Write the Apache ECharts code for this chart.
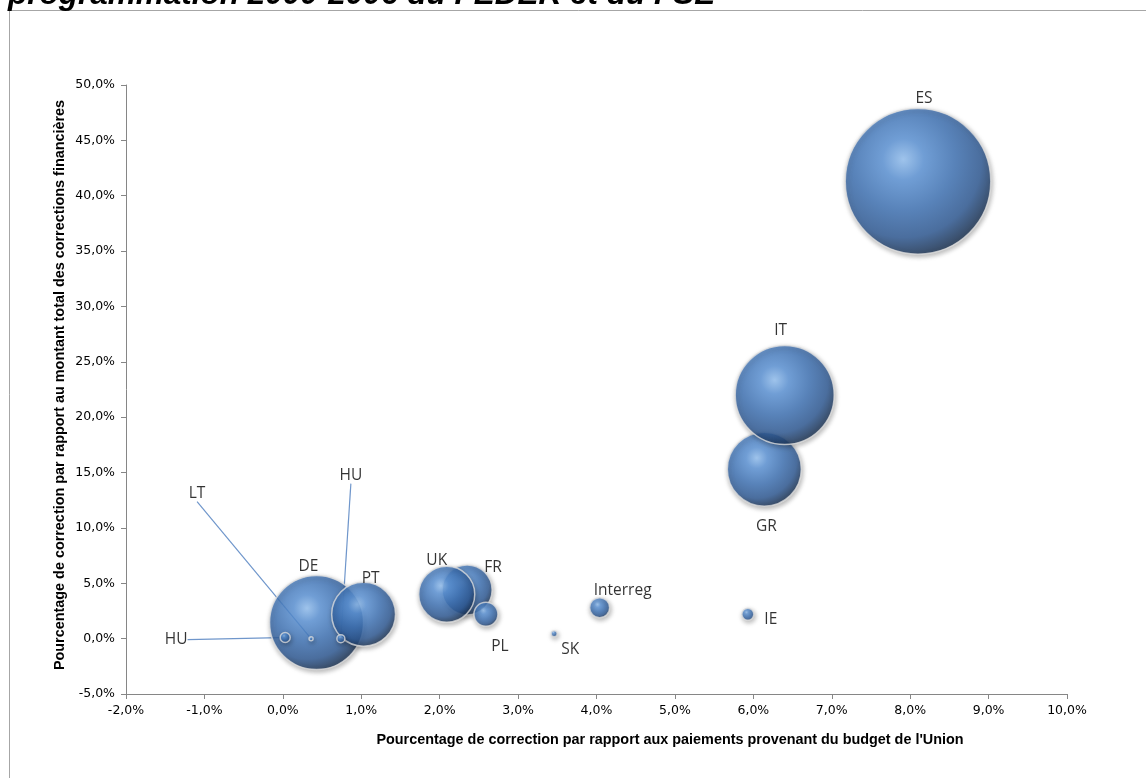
<!DOCTYPE html>
<html>
<head>
<meta charset="utf-8">
<script src="https://cdn.jsdelivr.net/npm/echarts@6/dist/echarts.min.js"></script>
<style>
  html, body { margin: 0; padding: 0; background: #fff; }
  #chart { width: 1146px; height: 778px; }
</style>
</head>
<body>
<div id="chart"></div>
<script>
// données
const pays = ['ES', 'GR', 'IT', 'FR', 'UK', 'PL', 'DE', 'PT', 'Interreg', 'IE', 'SK', 'HU', 'LT', 'HU'];
// % de correction par rapport aux paiements (axe x)
const partPaiements = [8.10, 6.14, 6.40, 2.35, 2.09, 2.59, 0.43, 1.03, 4.04, 5.93, 3.46, 0.03, 0.36, 0.74];
// % par rapport au montant total des corrections (axe y)
const partCorrections = [41.3, 15.3, 22.0, 4.4, 4.0, 2.2, 1.45, 2.2, 2.8, 2.2, 0.45, 0.1, 0.0, 0.0];
// taille des bulles (estimée d'après les rayons)
const tailleBulles = [53, 13.7, 24.5, 6.25, 7.84, 1.44, 22.1, 10.2, 1.0, 0.36, 0.09, 0.25, 0.04, 0.16];
const xTicks = { min: -2, max: 10, interval: 1 };
const yTicks = { min: -5, max: 50, interval: 5 };

// décalage des étiquettes (px, depuis le centre de la bulle)
const decalages = [
  [6, -83], [2, 57], [-4, -64], [26, -22], [-10, -34], [14, 32], [-8, -56], [7, -36],
  [23, -17], [23, 5], [16, 16], [-109, 2], [-114, -145], [10, -163]
];
// étiquettes reliées par un trait
const avecTrait = [11, 12, 13];

const fmt = (v) => v.toFixed(1).replace('.', ',') + '%';

const myChart = echarts.init(document.getElementById('chart'));

const bulle = {
  type: 'radial', x: 0.4, y: 0.35, r: 0.7,
  colorStops: [
    { offset: 0, color: '#98c6f8' },
    { offset: 0.2, color: '#5e97dc' },
    { offset: 0.5, color: '#4075b9' },
    { offset: 0.76, color: '#2f5b97' },
    { offset: 0.92, color: '#1c375c' },
    { offset: 1, color: '#142842' }
  ]
};

const donnees = pays.map((nom, i) => ({
  name: nom,
  value: [partPaiements[i], partCorrections[i], tailleBulles[i]],
  labelLine: { show: avecTrait.includes(i) }
}));

const options = {
  animation: false,
  grid: { left: 126, right: 79, top: 85, bottom: 84 },
  xAxis: {
    type: 'value',
    min: xTicks.min, max: xTicks.max, interval: xTicks.interval,
    splitLine: { show: false },
    axisLine: { onZero: false, lineStyle: { color: '#868686' } },
    axisTick: { show: true, length: 5, lineStyle: { color: '#868686' } },
    axisLabel: {
      formatter: fmt, margin: 10,
      color: '#000', fontFamily: 'DejaVu Sans', fontSize: 12.5
    }
  },
  yAxis: {
    type: 'value',
    min: yTicks.min, max: yTicks.max, interval: yTicks.interval,
    splitLine: { show: false },
    axisLine: { show: true, onZero: false, lineStyle: { color: '#868686' } },
    axisTick: { show: true, length: 5, lineStyle: { color: '#868686' } },
    axisLabel: {
      formatter: fmt, margin: 11,
      color: '#000', fontFamily: 'DejaVu Sans', fontSize: 12.5
    }
  },
  graphic: [
    {
      type: 'rect', silent: true,
      shape: { x: 9.5, y: 10.5, width: 1300, height: 900 },
      style: { fill: 'none', stroke: '#a6a6a6', lineWidth: 1 }
    },
    {
      type: 'text', left: 8, top: -21,
      style: {
        text: 'programmation 2000-2006 du FEDER et du FSE',
        font: 'italic bold 31.5px "Liberation Sans"', fill: '#000'
      }
    },
    {
      type: 'text', x: 670, y: 740,
      style: {
        text: "Pourcentage de correction par rapport aux paiements provenant du budget de l'Union",
        font: 'bold 14.4px "Liberation Sans"', fill: '#000',
        align: 'center', verticalAlign: 'middle'
      }
    },
    {
      type: 'text', x: 60, y: 385, rotation: Math.PI / 2,
      style: {
        text: 'Pourcentage de correction par rapport au montant total des corrections financières',
        font: 'bold 14.4px "Liberation Sans"', fill: '#000',
        align: 'center', verticalAlign: 'middle'
      }
    }
  ],
  series: [
    {
      type: 'scatter',
      data: donnees,
      symbolSize: (val) => 20 * Math.sqrt(val[2]),
      itemStyle: {
        color: bulle,
        borderColor: 'rgba(225,225,225,0.95)',
        borderWidth: 1.5,
        shadowBlur: 5,
        shadowColor: 'rgba(0,0,0,0.35)',
        shadowOffsetX: 1,
        shadowOffsetY: 2
      },
      emphasis: { disabled: true },
      label: {
        show: true,
        position: 'inside',
        formatter: (p) => p.name,
        color: '#000',
        fontFamily: 'Open Sans',
        fontSize: 15.5
      },
      labelLine: {
        show: false,
        lineStyle: { color: '#6f96cb', width: 1.2 }
      },
      labelLayout: (p) => ({
        dx: decalages[p.dataIndex][0],
        dy: decalages[p.dataIndex][1]
      })
    }
  ]
};

myChart.setOption(options);
</script>
</body>
</html>
